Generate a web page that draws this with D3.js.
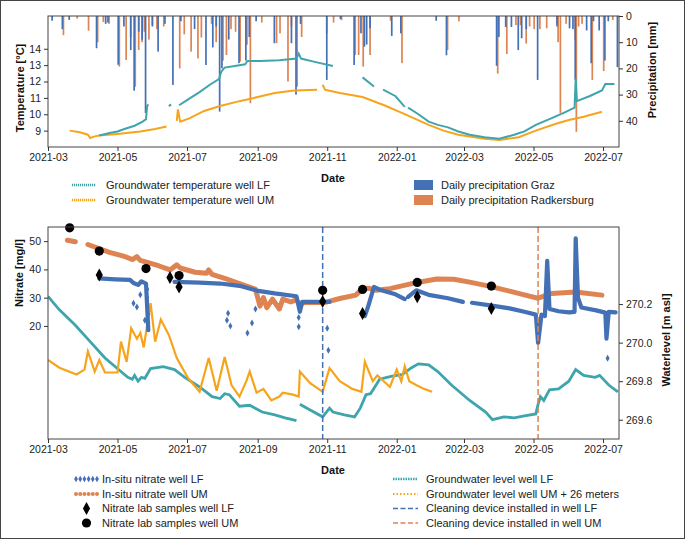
<!DOCTYPE html>
<html>
<head>
<meta charset="utf-8">
<script src="https://cdn.jsdelivr.net/npm/d3@7"></script>
<style>
  body { margin: 0; background: #fff; }
  svg { font-family: "Liberation Sans", Arial, sans-serif; }
</style>
</head>
<body>
<svg id="chart" width="685" height="539"></svg>
<script>
// ---- data ----
const dateTicks = ["2021-03-01", "2021-05-01", "2021-07-01", "2021-09-01", "2021-11-01",
  "2022-01-01", "2022-03-01", "2022-05-01", "2022-07-01"];
const tempTicks = [9, 10, 11, 12, 13, 14];
const precipTicks = [0, 10, 20, 30, 40];
const nitrateTicks = [20, 30, 40, 50];
const levelTicks = [269.6, 269.8, 270.0, 270.2];

const precipGraz = [
  ["2021-03-05", 1.8], ["2021-03-14", 5], ["2021-03-20", 1.5], ["2021-04-13", 12.3], ["2021-04-21", 3],
  ["2021-04-23", 2.5], ["2021-05-02", 18.6], ["2021-05-07", 4], ["2021-05-13", 13], ["2021-05-16", 28.5],
  ["2021-05-20", 6], ["2021-05-23", 9], ["2021-05-26", 37], ["2021-06-01", 4], ["2021-06-06", 13.6],
  ["2021-06-12", 3], ["2021-06-19", 26.3], ["2021-06-26", 2], ["2021-07-08", 5], ["2021-07-18", 18.7],
  ["2021-07-24", 12], ["2021-07-27", 4],
  ["2021-07-30", 36.5], ["2021-08-01", 20], ["2021-08-07", 9], ["2021-08-16", 18], ["2021-08-22", 17],
  ["2021-08-25", 8], ["2021-08-31", 2], ["2021-09-16", 10.4], ["2021-10-01", 10.4], ["2021-10-05", 30],
  ["2021-10-09", 3], ["2021-11-01", 24.4], ["2021-11-13", 1.2], ["2021-11-25", 18.7], ["2021-12-01", 6.6],
  ["2021-12-04", 11.7], ["2021-12-06", 10.9], ["2021-12-09", 4.7], ["2021-12-28", 7.6], ["2022-01-05", 6.6],
  ["2022-02-05", 1.8], ["2022-02-14", 15], ["2022-03-30", 19], ["2022-04-01", 8], ["2022-04-07", 4.2],
  ["2022-04-12", 4.2], ["2022-04-18", 13], ["2022-04-21", 8.5], ["2022-04-25", 5], ["2022-05-05", 24.4],
  ["2022-05-22", 4], ["2022-06-02", 4.7], ["2022-06-05", 5], ["2022-06-07", 24.4], ["2022-06-17", 5.5],
  ["2022-06-21", 18], ["2022-06-23", 2], ["2022-06-28", 5.5], ["2022-07-03", 17], ["2022-07-06", 2],
  ["2022-07-14", 19.5]
];
const precipRadkersburg = [
  ["2021-03-14", 7.3], ["2021-03-26", 1], ["2021-04-05", 5.6], ["2021-04-13", 10], ["2021-04-18", 2.3],
  ["2021-04-23", 3], ["2021-05-02", 19.3], ["2021-05-08", 16.8], ["2021-05-12", 8], ["2021-05-16", 27],
  ["2021-05-19", 13], ["2021-05-22", 10], ["2021-05-24", 6], ["2021-05-28", 9], ["2021-05-31", 3.5],
  ["2021-06-04", 5], ["2021-06-10", 4], ["2021-06-24", 20], ["2021-06-28", 7],
  ["2021-07-04", 13.6], ["2021-07-10", 16.2], ["2021-07-13", 8.2], ["2021-07-22", 3], ["2021-07-26", 10],
  ["2021-08-01", 17], ["2021-08-04", 14.9], ["2021-08-08", 5], ["2021-08-12", 6], ["2021-08-16", 17.4],
  ["2021-08-22", 11], ["2021-08-25", 33.3],
  ["2021-09-04", 2.5], ["2021-09-17", 10.4], ["2021-09-20", 6.6], ["2021-09-27", 25], ["2021-09-30", 4],
  ["2021-10-05", 27], ["2021-10-09", 8], ["2021-10-31", 6.6], ["2021-11-06", 2.5], ["2021-11-13", 1.6],
  ["2021-11-25", 14.9], ["2021-11-28", 14.9], ["2021-12-02", 19.3], ["2021-12-08", 14.9], ["2021-12-26", 1.8],
  ["2022-01-05", 18], ["2022-02-14", 13], ["2022-02-24", 2], ["2022-03-30", 22], ["2022-04-07", 14.5],
  ["2022-04-15", 3.5], ["2022-04-19", 3.5], ["2022-04-24", 10.5], ["2022-04-27", 4], ["2022-05-01", 5],
  ["2022-05-06", 5], ["2022-05-12", 4.7], ["2022-05-21", 3], ["2022-05-22", 10], ["2022-05-24", 37],
  ["2022-05-29", 3], ["2022-06-06", 9], ["2022-06-07", 44.2], ["2022-06-09", 4], ["2022-06-12", 3],
  ["2022-06-21", 24.4], ["2022-07-01", 21], ["2022-07-09", 1.5]
];

const tempLF = [
  ["2021-04-15", 8.7], ["2021-04-24", 8.85], ["2021-05-01", 8.95], ["2021-05-07", 9.1], ["2021-05-16", 9.3],
  ["2021-05-23", 9.55], ["2021-05-26", 9.7], ["2021-05-27", 10.5], ["2021-05-28", 10.6], ["2021-05-29", null],
  ["2021-06-15", 10.5], ["2021-06-17", 10.6], ["2021-06-18", null],
  ["2021-06-24", 10.55], ["2021-07-03", 10.95], ["2021-07-12", 11.35], ["2021-07-21", 11.8], ["2021-07-29", 12.15],
  ["2021-07-31", 12.6], ["2021-08-03", 12.85], ["2021-08-12", 12.95], ["2021-08-21", 13.05], ["2021-08-23", 13.25],
  ["2021-09-03", 13.25], ["2021-09-20", 13.3], ["2021-10-05", 13.4], ["2021-10-07", 13.7], ["2021-10-09", 13.4],
  ["2021-10-21", 13.2], ["2021-11-06", 12.95], ["2021-11-07", null],
  ["2021-12-02", 12.25], ["2021-12-12", 11.7], ["2021-12-13", null],
  ["2021-12-20", 11.5], ["2021-12-31", 11.1], ["2022-01-08", 10.45], ["2022-01-09", null],
  ["2022-01-11", 10.4], ["2022-01-20", 10.0], ["2022-01-29", 9.55], ["2022-02-06", 9.35], ["2022-02-15", 9.2],
  ["2022-02-24", 8.95], ["2022-03-06", 8.75], ["2022-03-19", 8.6], ["2022-04-01", 8.5], ["2022-04-14", 8.75],
  ["2022-04-23", 8.95], ["2022-05-03", 9.35], ["2022-05-15", 9.7], ["2022-05-28", 10.1], ["2022-06-06", 10.4],
  ["2022-06-07", 12.2], ["2022-06-08", 10.8], ["2022-06-19", 11.1], ["2022-06-30", 11.45], ["2022-07-03", 11.85],
  ["2022-07-11", 11.85]
];
const tempUM = [
  ["2021-03-20", 9.0], ["2021-03-29", 8.9], ["2021-04-05", 8.75], ["2021-04-07", 8.55], ["2021-04-11", 8.65],
  ["2021-04-15", 8.7], ["2021-05-01", 8.8], ["2021-05-21", 8.95], ["2021-06-03", 9.1], ["2021-06-13", 9.25],
  ["2021-06-14", null],
  ["2021-06-22", 9.6], ["2021-06-23", 10.3], ["2021-06-25", 9.55], ["2021-07-03", 9.75], ["2021-07-16", 10.2],
  ["2021-07-30", 10.5], ["2021-08-16", 10.8], ["2021-09-01", 11.05], ["2021-09-16", 11.3], ["2021-10-03", 11.45],
  ["2021-10-23", 11.5], ["2021-10-24", null],
  ["2021-10-28", 11.8], ["2021-10-30", 11.5], ["2021-11-12", 11.3], ["2021-12-02", 11.05], ["2021-12-21", 10.55],
  ["2022-01-06", 10.07], ["2022-01-29", 9.35], ["2022-02-11", 9.0], ["2022-02-24", 8.75], ["2022-03-19", 8.5],
  ["2022-04-01", 8.43], ["2022-04-18", 8.6], ["2022-05-03", 9.0], ["2022-05-20", 9.4], ["2022-06-01", 9.65],
  ["2022-06-14", 9.85], ["2022-06-30", 10.15]
];

const nitrateLF = [
  ["2021-04-15", 36.8], ["2021-04-29", 36.5], ["2021-05-12", 36.3], ["2021-05-15", 35.2], ["2021-05-19", 34.5],
  ["2021-05-22", 35.8], ["2021-05-26", 35], ["2021-05-28", 18.5], ["2021-05-29", null],
  ["2021-06-20", 35.6], ["2021-07-12", 35.3], ["2021-07-30", 35], ["2021-08-16", 34.2], ["2021-08-31", 32.5],
  ["2021-09-16", 31.5], ["2021-10-05", 30.5], ["2021-10-08", 25], ["2021-10-10", 28.5], ["2021-10-28", 28.5],
  ["2021-11-03", 28.5], ["2021-11-04", null],
  ["2021-12-04", 23.5], ["2021-12-07", 27], ["2021-12-12", 33.8], ["2021-12-17", 32.8], ["2021-12-30", 31.3],
  ["2022-01-08", 29.5], ["2022-01-09", null],
  ["2022-01-11", 30.3], ["2022-01-18", 32.6], ["2022-01-29", 31], ["2022-02-15", 29.8], ["2022-02-28", 28.5],
  ["2022-03-01", null],
  ["2022-03-08", 28.2], ["2022-03-24", 27.3], ["2022-04-10", 26.2], ["2022-04-23", 25], ["2022-05-03", 24],
  ["2022-05-05", 14], ["2022-05-08", 24], ["2022-05-11", 23.5], ["2022-05-13", 43], ["2022-05-15", 26],
  ["2022-05-23", 25.2], ["2022-06-01", 24.8], ["2022-06-06", 25], ["2022-06-07", 51], ["2022-06-09", 30],
  ["2022-06-12", 26.5], ["2022-06-25", 25.5], ["2022-07-03", 24.7], ["2022-07-04", 15.5], ["2022-07-06", 25],
  ["2022-07-12", 24.8]
];
const nitrateLFScatter = [
  ["2021-05-15", 28], ["2021-05-18", 26.7], ["2021-05-21", 31], ["2021-05-25", 22], ["2021-05-27", 33],
  ["2021-05-27", 30], ["2021-05-27", 27], ["2021-05-28", 24], ["2021-05-28", 21], ["2021-08-05", 22],
  ["2021-08-06", 24.5], ["2021-08-08", 20], ["2021-08-23", 17.5], ["2021-08-27", 21], ["2021-08-30", 26],
  ["2021-10-07", 19.7], ["2021-10-07", 23], ["2021-11-01", 19.2], ["2021-11-02", 11.4], ["2022-05-06", 18],
  ["2022-05-06", 21], ["2022-05-13", 38], ["2022-05-13", 33], ["2022-05-13", 29], ["2022-06-07", 45],
  ["2022-06-07", 40], ["2022-06-07", 35], ["2022-07-04", 19], ["2022-07-05", 8.6]
];
const nitrateUM = [
  ["2021-03-18", 50.3], ["2021-03-25", 49.8], ["2021-03-26", null],
  ["2021-04-05", 48.8], ["2021-04-24", 46], ["2021-05-07", 44.6], ["2021-05-14", 43.5], ["2021-05-18", 44.5],
  ["2021-05-21", 43.2], ["2021-05-27", 42.5], ["2021-06-06", 41.3], ["2021-06-16", 39.8], ["2021-06-22", 41.6],
  ["2021-06-25", 40.5], ["2021-07-08", 39], ["2021-07-18", 38.6], ["2021-07-20", 39.8], ["2021-07-23", 38.2],
  ["2021-08-03", 36.8], ["2021-08-16", 35], ["2021-08-30", 33], ["2021-09-03", 27], ["2021-09-06", 30],
  ["2021-09-09", 26.5], ["2021-09-14", 29.5], ["2021-09-20", 26], ["2021-09-23", 29.5], ["2021-09-30", 28.5],
  ["2021-10-05", 29.2], ["2021-10-08", 27.5], ["2021-10-12", 28.3], ["2021-10-28", 28.3], ["2021-11-01", 28.5],
  ["2021-11-12", 29.7], ["2021-11-26", 30.9], ["2021-12-02", 33.2], ["2021-12-08", 33.3], ["2021-12-14", 32.6],
  ["2021-12-26", 33.2], ["2022-01-18", 35.3], ["2022-02-05", 36.6], ["2022-02-20", 36.5], ["2022-03-06", 35.5],
  ["2022-03-24", 34], ["2022-04-10", 32.3], ["2022-04-30", 30.3], ["2022-05-05", 29.8], ["2022-05-17", 31.5],
  ["2022-06-07", 32], ["2022-06-30", 30.9]
];
const labLF = [
  ["2021-04-15", 38], ["2021-06-16", 37.1], ["2021-06-24", 33.8], ["2021-10-28", 28.6],
  ["2021-12-02", 24.4], ["2022-01-19", 30.3], ["2022-03-25", 26.2]
];
const labUM = [
  ["2021-03-20", 54.7], ["2021-04-15", 46.5], ["2021-05-26", 40.3], ["2021-06-24", 37.8],
  ["2021-10-28", 32.6], ["2021-12-02", 32.9], ["2022-01-19", 35.4], ["2022-03-25", 34.1]
];
const levelLF = [
  ["2021-03-01", 270.24], ["2021-03-11", 270.17], ["2021-03-25", 270.09], ["2021-04-07", 270.005],
  ["2021-04-20", 269.92], ["2021-05-04", 269.85], ["2021-05-10", 269.82], ["2021-05-14", 269.81],
  ["2021-05-16", 269.83], ["2021-05-19", 269.80], ["2021-05-22", 269.82], ["2021-05-25", 269.815],
  ["2021-05-30", 269.865], ["2021-06-10", 269.875], ["2021-06-20", 269.86], ["2021-06-29", 269.82],
  ["2021-07-12", 269.77], ["2021-07-23", 269.72], ["2021-07-30", 269.71], ["2021-08-03", 269.735],
  ["2021-08-07", 269.73], ["2021-08-16", 269.67], ["2021-08-25", 269.675], ["2021-09-05", 269.64],
  ["2021-09-16", 269.625], ["2021-09-25", 269.61], ["2021-10-05", 269.595], ["2021-10-06", null],
  ["2021-10-08", 269.68], ["2021-10-17", 269.65], ["2021-10-28", 269.615], ["2021-11-03", 269.66],
  ["2021-11-06", 269.64], ["2021-11-16", 269.625], ["2021-11-25", 269.615], ["2021-11-30", 269.66],
  ["2021-12-05", 269.73], ["2021-12-09", 269.735], ["2021-12-17", 269.81], ["2021-12-27", 269.825],
  ["2022-01-06", 269.835], ["2022-01-14", 269.87], ["2022-01-20", 269.89], ["2022-01-29", 269.885],
  ["2022-02-06", 269.85], ["2022-02-18", 269.78], ["2022-03-06", 269.7], ["2022-03-20", 269.64],
  ["2022-03-26", 269.6], ["2022-04-05", 269.615], ["2022-04-14", 269.61], ["2022-04-23", 269.62],
  ["2022-05-03", 269.63], ["2022-05-05", 269.68], ["2022-05-07", 269.72], ["2022-05-10", 269.7],
  ["2022-05-15", 269.755], ["2022-05-23", 269.76], ["2022-06-01", 269.80], ["2022-06-07", 269.86],
  ["2022-06-14", 269.83], ["2022-06-24", 269.82], ["2022-06-28", 269.83], ["2022-07-06", 269.78],
  ["2022-07-14", 269.745]
];
const levelUMplus26 = [
  ["2021-03-01", 269.91], ["2021-03-11", 269.87], ["2021-03-26", 269.835], ["2021-04-02", 269.86],
  ["2021-04-05", 269.955], ["2021-04-11", 269.85], ["2021-04-15", 269.91], ["2021-04-20", 269.845],
  ["2021-05-01", 269.845], ["2021-05-04", 270.005], ["2021-05-09", 269.9], ["2021-05-13", 270.075],
  ["2021-05-18", 270.02], ["2021-05-21", 270.05], ["2021-05-24", 269.975], ["2021-05-30", 270.205],
  ["2021-06-03", 270.005], ["2021-06-08", 270.12], ["2021-06-15", 270.04], ["2021-06-22", 269.92],
  ["2021-07-02", 269.815], ["2021-07-12", 269.745], ["2021-07-20", 269.92], ["2021-07-27", 269.75],
  ["2021-08-03", 269.925], ["2021-08-09", 269.78], ["2021-08-16", 269.72], ["2021-08-22", 269.8],
  ["2021-08-25", 269.85], ["2021-08-31", 269.74], ["2021-09-06", 269.76], ["2021-09-13", 269.7],
  ["2021-09-20", 269.72], ["2021-09-23", 269.74], ["2021-10-02", 269.73], ["2021-10-07", 269.72],
  ["2021-10-08", 269.85], ["2021-10-17", 269.79], ["2021-10-28", 269.745], ["2021-11-03", 269.868],
  ["2021-11-12", 269.8], ["2021-11-23", 269.76], ["2021-12-01", 269.745], ["2021-12-04", 269.9],
  ["2021-12-11", 269.8], ["2021-12-15", 269.83], ["2021-12-26", 269.77], ["2022-01-01", 269.86],
  ["2022-01-05", 269.8], ["2022-01-08", 269.877], ["2022-01-12", 269.8], ["2022-01-18", 269.78],
  ["2022-01-25", 269.76], ["2022-02-01", 269.745]
];
const cleaningLF = "2021-10-28";
const cleaningUM = "2022-05-05";

// ---- colours ----
const cBlue = "#4470b5", cOrange = "#dd8452", cTeal = "#3fa5ac", cYellow = "#f7a41d";

const parse = d3.utcParse("%Y-%m-%d");
const svg = d3.select("#chart");

svg.append("rect").attr("x", 0.5).attr("y", 0.5).attr("width", 684).attr("height", 538)
  .attr("fill", "none").attr("stroke", "#444");

const x = d3.scaleUtc()
  .domain([parse("2021-03-01"), parse("2022-07-15")])
  .range([48, 619]);

const topP = { t: 16, b: 147 };
const botP = { t: 227, b: 439 };

const yT = d3.scaleLinear().domain([8, 16]).range([topP.b, topP.t]);
const yP = d3.scaleLinear().domain([0, 50]).range([topP.t, topP.b]);
const yN = d3.scaleLinear().domain([-20, 55]).range([botP.b, botP.t]);
const yW = d3.scaleLinear().domain([269.5, 270.6]).range([botP.b, botP.t]);

function styleAxis(g) {
  g.selectAll("path").remove();
  g.selectAll("line").attr("stroke", "#333");
  g.selectAll("text").attr("font-size", 10.5).attr("fill", "#222");
}

function frame(b) {
  svg.append("rect").attr("x", 48).attr("y", b.t).attr("width", 571).attr("height", b.b - b.t)
    .attr("fill", "none").attr("stroke", "#444").attr("stroke-width", 1);
}

function xAxis(yPos) {
  svg.append("g").attr("transform", `translate(0,${yPos})`)
    .call(d3.axisBottom(x).tickValues(dateTicks.map(parse)).tickFormat(d3.utcFormat("%Y-%m"))
      .tickSizeOuter(0).tickSize(4).tickPadding(3))
    .call(styleAxis);
}

function title(text, xPos, yPos, rotate) {
  const t = svg.append("text").attr("font-size", 11).attr("font-weight", "bold")
    .attr("text-anchor", "middle").attr("fill", "#111").text(text);
  if (rotate) t.attr("transform", `translate(${xPos},${yPos}) rotate(-90)`).attr("dy", "0.35em");
  else t.attr("x", xPos).attr("y", yPos).attr("dy", "0.35em");
}

// ---------- top panel ----------
svg.append("clipPath").attr("id", "ct").append("rect")
  .attr("x", 48).attr("y", topP.t).attr("width", 571).attr("height", topP.b - topP.t);

const gTop = svg.append("g").attr("clip-path", "url(#ct)");

gTop.selectAll(".barR").data(precipRadkersburg).join("rect")
  .attr("x", d => x(parse(d[0])) - 0.2).attr("y", yP(0))
  .attr("width", 1.7).attr("height", d => yP(d[1]) - yP(0))
  .attr("fill", cOrange);
gTop.selectAll(".barG").data(precipGraz).join("rect")
  .attr("x", d => x(parse(d[0])) - 1.3).attr("y", yP(0))
  .attr("width", 1.7).attr("height", d => yP(d[1]) - yP(0))
  .attr("fill", cBlue);

const lineT = d3.line().defined(d => d[1] != null).x(d => x(parse(d[0]))).y(d => yT(d[1]));
gTop.append("path").datum(tempUM).attr("d", lineT).attr("fill", "none")
  .attr("stroke", cYellow).attr("stroke-width", 2);
gTop.append("path").datum(tempLF).attr("d", lineT).attr("fill", "none")
  .attr("stroke", cTeal).attr("stroke-width", 2);

frame(topP);
xAxis(topP.b);
svg.append("g").attr("transform", "translate(48,0)")
  .call(d3.axisLeft(yT).tickValues(tempTicks).tickSize(4).tickPadding(3)).call(styleAxis);
svg.append("g").attr("transform", "translate(619,0)")
  .call(d3.axisRight(yP).tickValues(precipTicks).tickSize(4).tickPadding(3)).call(styleAxis);

title("Temperature [°C]", 20, 88, true);
title("Precipitation [mm]", 652, 70, true);
title("Date", 333, 178, false);

// top legend
const legT = svg.append("g").attr("font-size", 11).attr("fill", "#222");
[[cTeal, "Groundwater temperature well LF", 185], [cYellow, "Groundwater temperature well UM", 200]]
  .forEach(([c, label, yy]) => {
    legT.append("line").attr("x1", 72).attr("x2", 96).attr("y1", yy).attr("y2", yy)
      .attr("stroke", c).attr("stroke-width", 2.5).attr("stroke-dasharray", "1.2,0.8");
    legT.append("text").attr("x", 106).attr("y", yy).attr("dy", "0.35em").text(label);
  });
[[cBlue, "Daily precipitation Graz", 185], [cOrange, "Daily precipitation Radkersburg", 200]]
  .forEach(([c, label, yy]) => {
    legT.append("rect").attr("x", 414).attr("y", yy - 5).attr("width", 19).attr("height", 10).attr("fill", c);
    legT.append("text").attr("x", 441).attr("y", yy).attr("dy", "0.35em").text(label);
  });

// ---------- bottom panel ----------
svg.append("clipPath").attr("id", "cb").append("rect")
  .attr("x", 48).attr("y", botP.t).attr("width", 571).attr("height", botP.b - botP.t);
const gBot = svg.append("g").attr("clip-path", "url(#cb)");

const lineW = d3.line().defined(d => d[1] != null).x(d => x(parse(d[0]))).y(d => yW(d[1]));
const lineN = d3.line().defined(d => d[1] != null).x(d => x(parse(d[0]))).y(d => yN(d[1]));

gBot.append("path").datum(levelLF).attr("d", lineW).attr("fill", "none")
  .attr("stroke", cTeal).attr("stroke-width", 2.8);
gBot.append("path").datum(levelUMplus26).attr("d", lineW).attr("fill", "none")
  .attr("stroke", cYellow).attr("stroke-width", 2.2);

gBot.append("path").datum(nitrateUM).attr("d", lineN).attr("fill", "none")
  .attr("stroke", cOrange).attr("stroke-width", 5).attr("stroke-linejoin", "round").attr("stroke-linecap", "round");
gBot.append("path").datum(nitrateLF).attr("d", lineN).attr("fill", "none")
  .attr("stroke", cBlue).attr("stroke-width", 4.2).attr("stroke-linejoin", "round").attr("stroke-linecap", "round");

const smallDiamond = d3.symbol(d3.symbolDiamond, 14);
gBot.selectAll(".sc").data(nitrateLFScatter).join("path")
  .attr("transform", d => `translate(${x(parse(d[0]))},${yN(d[1])})`)
  .attr("d", smallDiamond).attr("fill", cBlue);

[[cleaningLF, cBlue], [cleaningUM, cOrange]].forEach(([d, c]) => {
  gBot.append("line").attr("x1", x(parse(d))).attr("x2", x(parse(d)))
    .attr("y1", botP.t).attr("y2", botP.b).attr("stroke", c).attr("stroke-width", 1.5)
    .attr("stroke-dasharray", "6,3");
});

const thinDiamond = "M0,-6.5L3.6,0L0,6.5L-3.6,0Z";
svg.selectAll(".labLF").data(labLF).join("path")
  .attr("transform", d => `translate(${x(parse(d[0]))},${yN(d[1])})`)
  .attr("d", thinDiamond).attr("fill", "#000");
svg.selectAll(".labUM").data(labUM).join("circle")
  .attr("cx", d => x(parse(d[0]))).attr("cy", d => yN(d[1])).attr("r", 4.6).attr("fill", "#000");

frame(botP);
xAxis(botP.b);
svg.append("g").attr("transform", "translate(48,0)")
  .call(d3.axisLeft(yN).tickValues(nitrateTicks).tickSize(4).tickPadding(3)).call(styleAxis);
svg.append("g").attr("transform", "translate(619,0)")
  .call(d3.axisRight(yW).tickValues(levelTicks).tickFormat(d3.format(".1f")).tickSize(4).tickPadding(3))
  .call(styleAxis);

title("Nitrate [mg/l]", 19, 273, true);
title("Waterlevel [m asl]", 666, 340, true);
title("Date", 333, 470, false);

// bottom legend
const legB = svg.append("g").attr("font-size", 11).attr("fill", "#222");
const rows = [479, 494, 508.5, 523];
const lx = 76;
d3.range(6).forEach(i => {
  legB.append("path").attr("transform", `translate(${lx + i * 4.2},${rows[0]})`)
    .attr("d", d3.symbol(d3.symbolDiamond, 12)).attr("fill", cBlue);
  legB.append("circle").attr("cx", lx + i * 4.2).attr("cy", rows[1]).attr("r", 2).attr("fill", cOrange);
});
legB.append("path").attr("transform", `translate(86.5,${rows[2]})`).attr("d", thinDiamond).attr("fill", "#000");
legB.append("circle").attr("cx", 86.5).attr("cy", rows[3]).attr("r", 4.6).attr("fill", "#000");
["In-situ nitrate well LF", "In-situ nitrate well UM", "Nitrate lab samples well LF", "Nitrate lab samples well UM"]
  .forEach((t, i) => legB.append("text").attr("x", 102).attr("y", rows[i]).attr("dy", "0.35em").text(t));

legB.append("line").attr("x1", 393).attr("x2", 418).attr("y1", rows[0]).attr("y2", rows[0])
  .attr("stroke", cTeal).attr("stroke-width", 2.5).attr("stroke-dasharray", "1.5,1");
legB.append("line").attr("x1", 393).attr("x2", 418).attr("y1", rows[1]).attr("y2", rows[1])
  .attr("stroke", cYellow).attr("stroke-width", 2).attr("stroke-dasharray", "1.5,2");
legB.append("line").attr("x1", 393).attr("x2", 418).attr("y1", rows[2]).attr("y2", rows[2])
  .attr("stroke", cBlue).attr("stroke-width", 1.5).attr("stroke-dasharray", "5,2.5");
legB.append("line").attr("x1", 393).attr("x2", 418).attr("y1", rows[3]).attr("y2", rows[3])
  .attr("stroke", cOrange).attr("stroke-width", 1.5).attr("stroke-dasharray", "5,2.5");
["Groundwater level well LF", "Groundwater level well UM + 26 meters", "Cleaning device installed in well LF",
  "Cleaning device installed in well UM"]
  .forEach((t, i) => legB.append("text").attr("x", 426).attr("y", rows[i]).attr("dy", "0.35em").text(t));
</script>
</body>
</html>
